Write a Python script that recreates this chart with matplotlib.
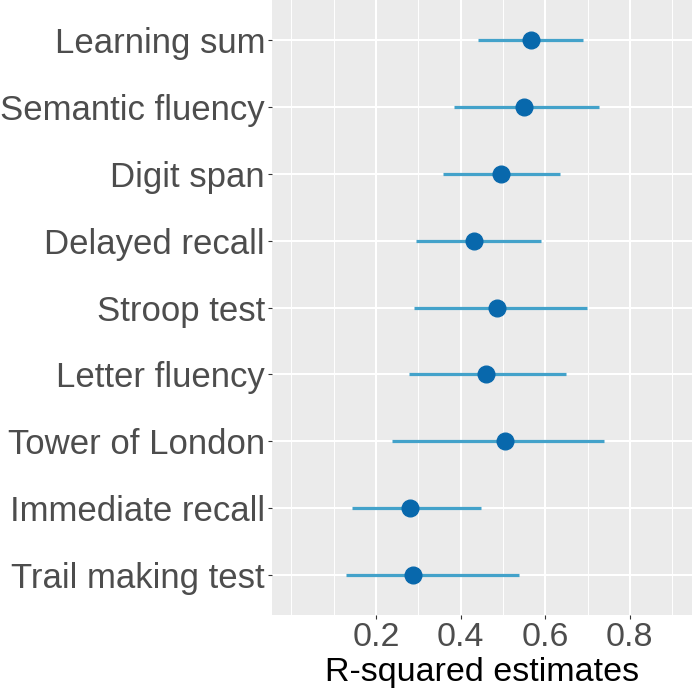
import matplotlib
matplotlib.use("Agg")
import matplotlib.pyplot as plt

plt.rcParams.update({"font.family": ["Liberation Sans", "DejaVu Sans"]})

# data, top to bottom as in the picture
tests = ["Learning sum", "Semantic fluency", "Digit span", "Delayed recall",
         "Stroop test", "Letter fluency", "Tower of London",
         "Immediate recall", "Trail making test"]
estimate = [0.567, 0.549, 0.496, 0.432, 0.486, 0.460, 0.506, 0.280, 0.287]
ci_low = [0.441, 0.384, 0.359, 0.294, 0.289, 0.277, 0.238, 0.142, 0.128]
ci_high = [0.689, 0.727, 0.636, 0.590, 0.699, 0.649, 0.739, 0.448, 0.538]

x_ticks = [0.2, 0.4, 0.6, 0.8]
x_minor = [0.0, 0.1, 0.3, 0.5, 0.7, 0.9]

BG = "#EBEBEB"
LINE = "#43A2CA"
POINT = "#0868AC"
TICKTXT = "#4D4D4D"

fig = plt.figure(figsize=(6.92, 6.94), dpi=100)
ax = fig.add_axes([272 / 692, 79 / 694, 420 / 692, 615 / 694])
ax.set_facecolor(BG)
for s in ax.spines.values():
    s.set_visible(False)

ypos = list(range(len(tests), 0, -1))
ax.hlines(ypos, ci_low, ci_high, color=LINE, lw=2.3, zorder=3)
ax.plot(estimate, ypos, "o", color=POINT, ms=12, zorder=4)

ax.set_xlim(-0.046, 0.947)
ax.set_ylim(0.4, len(tests) + 0.6)
ax.set_xticks(x_ticks)
ax.set_xticklabels([f"{v:.1f}" for v in x_ticks])
ax.set_xticks(x_minor, minor=True)
ax.set_yticks(ypos)
ax.set_yticklabels(tests)

ax.grid(which="major", color="white", lw=1.5, zorder=0)
ax.grid(which="minor", axis="x", color="white", lw=0.7, zorder=0)
ax.set_axisbelow(True)

ax.tick_params(axis="both", which="major", length=3, width=0.8, color="#333333",
               colors=TICKTXT, pad=2)
ax.tick_params(axis="x", which="major", labelsize=24.5, labelcolor=TICKTXT, pad=2)
ax.tick_params(axis="y", which="major", labelsize=25, labelcolor=TICKTXT)
ax.tick_params(which="minor", length=0)
ax.set_xlabel("R-squared estimates", fontsize=24.5, color="black", labelpad=3)

fig.savefig("out.png", dpi=100, facecolor="white")
